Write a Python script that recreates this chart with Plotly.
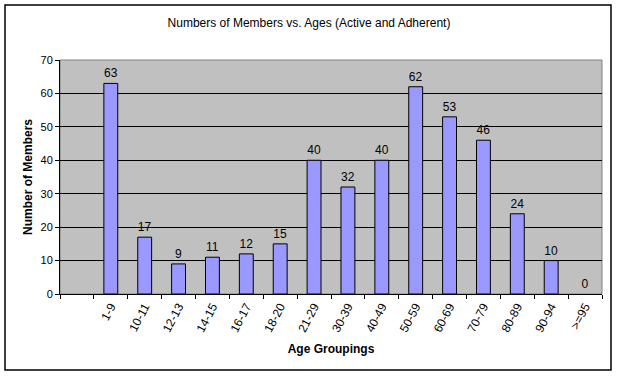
import plotly.graph_objects as go

categories = ["1-9", "10-11", "12-13", "14-15", "16-17", "18-20", "21-29", "30-39",
              "40-49", "50-59", "60-69", "70-79", "80-89", "90-94", ">=95"]
members = [63, 17, 9, 11, 12, 15, 40, 32, 40, 62, 53, 46, 24, 10, 0]
y_ticks = [0, 10, 20, 30, 40, 50, 60, 70]

FONT = "Liberation Sans, Arial, sans-serif"
W, H = 618, 377
ML, MR, MT, MB = 60, 16, 60, 83
PW, PH = W - ML - MR, H - MT - MB

def px_x(p):
    return (p - ML) / PW

def px_y(p):
    return (H - MB - p) / PH

fig = go.Figure()
fig.add_trace(go.Bar(
    x=categories, y=members,
    marker=dict(color="#9999FF",
                line=dict(color="black", width=[1 if v > 0 else 0 for v in members])),
    text=[str(v) for v in members], textposition="outside",
    textfont=dict(family=FONT, size=12, color="black"),
    cliponaxis=False,
))

fig.update_layout(
    width=W, height=H,
    margin=dict(l=ML, r=MR, t=MT, b=MB, autoexpand=False),
    paper_bgcolor="white", plot_bgcolor="#C0C0C0",
    bargap=0.59,
    showlegend=False,
    font=dict(family=FONT, color="black"),
    title=dict(text="Numbers of Members vs. Ages (Active and Adherent)",
               font=dict(family=FONT, size=12, color="black"),
               x=0.5, xanchor="center", xref="container",
               y=1 - 23 / H, yanchor="middle", yref="container", automargin=False),
    xaxis=dict(
        type="category", categoryorder="array", categoryarray=[" "] + categories,
        range=[-0.5, len(categories) + 0.5], automargin=False,
        tickson="boundaries", ticks="outside", ticklen=4, tickcolor="black",
        tickangle=-62, tickfont=dict(family=FONT, size=12, color="black"),
        showgrid=False, showline=True, linecolor="black", linewidth=1,
        title=dict(text="<b>Age Groupings</b>", font=dict(family=FONT, size=12, color="black"),
                   standoff=10),
    ),
    yaxis=dict(
        range=[0, 70], tickvals=y_ticks, ticks="outside", ticklen=4, tickcolor="black",
        tickfont=dict(family=FONT, size=11, color="black"), automargin=False,
        showgrid=True, gridcolor="black", gridwidth=1,
        zeroline=False, showline=True, linecolor="black", linewidth=1,
        title=dict(text="<b>Number of Members</b>", font=dict(family=FONT, size=12, color="black"),
                   standoff=5),
    ),
    shapes=[
        dict(type="rect", xref="paper", yref="paper", x0=0, x1=1, y0=0, y1=1,
             line=dict(color="#808080", width=1), layer="below"),
        dict(type="rect", xref="paper", yref="paper",
             x0=px_x(5), x1=px_x(611), y0=px_y(370), y1=px_y(5),
             line=dict(color="black", width=1.5)),
    ],
)

fig.write_html("out.html", config={"displayModeBar": False},
               post_script="document.body.style.margin='0';document.body.style.overflow='hidden';")
